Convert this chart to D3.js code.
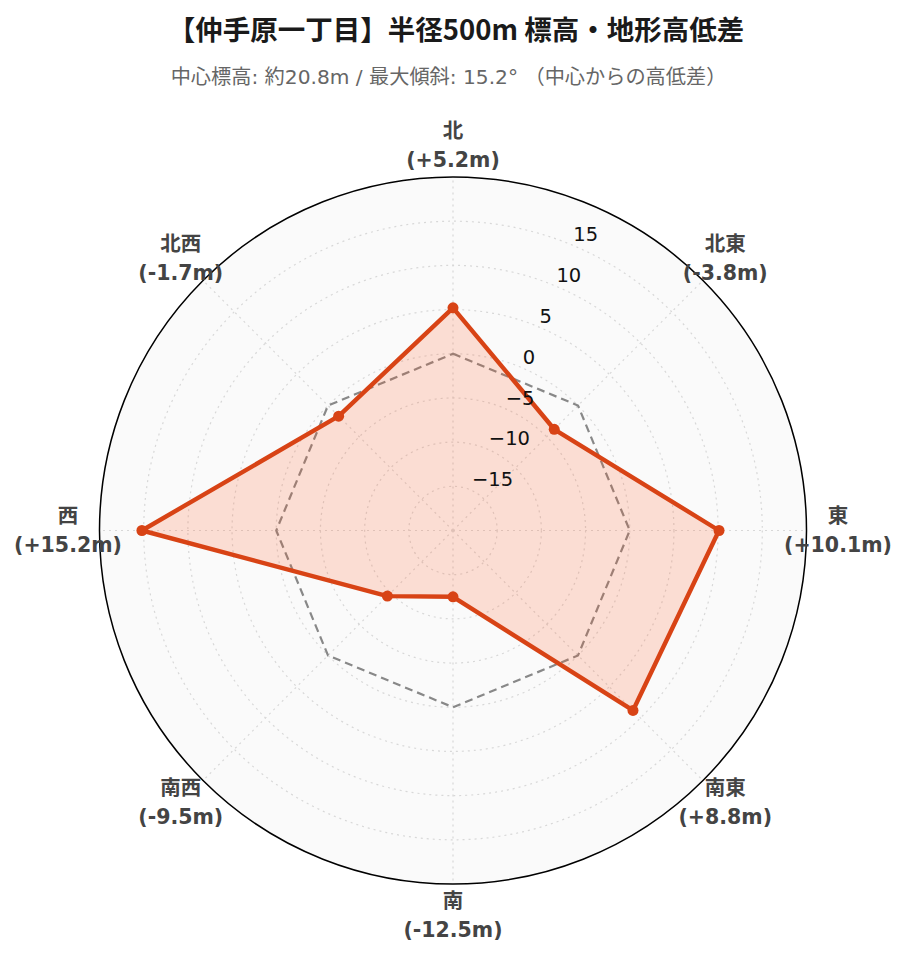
<!DOCTYPE html>
<html><head><meta charset="utf-8">
<script src="https://cdn.jsdelivr.net/npm/d3@7"></script>
<style>body{margin:0;background:#fff}svg{display:block}</style>
</head><body>
<svg id="c" width="907" height="962"></svg>
<script>
const directions = ["北","北東","東","南東","南","南西","西","北西"];
const values = [5.2, -3.8, 10.1, 8.8, -12.5, -9.5, 15.2, -1.7];
const baseline = [0, 0, 0, 0, 0, 0, 0, 0];
const radialTicks = [-15, -10, -5, 0, 5, 10, 15];
const radialRange = [-20, 20];
const titleText = "【仲手原一丁目】半径500m 標高・地形高低差";
const subtitleText = "中心標高: 約20.8m / 最大傾斜: 15.2° （中心からの高低差）";

const svg = d3.select("#c");
const cx = 453, cy = 530.5, R = 353.5;
const r = d3.scaleLinear().domain(radialRange).range([0, R]);
const ang = d3.scaleLinear().domain([0, directions.length]).range([0, 2*Math.PI]);
const pt = (i, v) => [cx + r(v)*Math.sin(ang(i)), cy - r(v)*Math.cos(ang(i))];
const font = "'DejaVu Sans', 'Noto Sans CJK JP', sans-serif";

svg.append("text").attr("x", 456).attr("y", 28).attr("text-anchor","middle")
  .attr("dominant-baseline","central")
  .style("font-family","'Noto Sans CJK JP', sans-serif").style("font-weight","bold")
  .style("font-size","27.5px").attr("fill","#1a1a1a").text(titleText);
svg.append("text").attr("x", 448.5).attr("y", 77).attr("text-anchor","middle")
  .attr("dominant-baseline","central")
  .style("font-family",font).style("font-size","20.2px").attr("fill","#666").text(subtitleText);

const g = svg.append("g");
g.append("circle").attr("cx",cx).attr("cy",cy).attr("r",R).attr("fill","#fafafa");
// grid circles
g.selectAll(".gc").data(radialTicks).enter().append("circle")
  .attr("cx",cx).attr("cy",cy).attr("r",d=>r(d)).attr("fill","none")
  .attr("stroke","#d8d8d8").attr("stroke-width",1.2).attr("stroke-dasharray","2,4");
// spokes
g.selectAll(".sp").data(directions).enter().append("line")
  .attr("x1",cx).attr("y1",cy)
  .attr("x2",(d,i)=>pt(i, radialRange[1])[0]).attr("y2",(d,i)=>pt(i, radialRange[1])[1])
  .attr("stroke","#d8d8d8").attr("stroke-width",1.2).attr("stroke-dasharray","2,4");

const line = d3.line().curve(d3.curveLinearClosed);
// baseline dashed
g.append("path").attr("d", line(baseline.map((v,i)=>pt(i,v))))
  .attr("fill","none").attr("stroke","#888").attr("stroke-width",2.2).attr("stroke-dasharray","8,5");
// data
g.append("path").attr("d", line(values.map((v,i)=>pt(i,v))))
  .attr("fill","rgba(255,87,34,0.18)").attr("stroke","#d84315").attr("stroke-width",4.4)
  .attr("stroke-linejoin","round");
g.selectAll(".dot").data(values).enter().append("circle")
  .attr("cx",(d,i)=>pt(i,d)[0]).attr("cy",(d,i)=>pt(i,d)[1]).attr("r",5.5).attr("fill","#d84315");

// outer circle
g.append("circle").attr("cx",cx).attr("cy",cy).attr("r",R).attr("fill","none")
  .attr("stroke","#000").attr("stroke-width",1.5);

// radial tick labels
const tickAng = Math.PI/8;
g.selectAll(".tl").data(radialTicks).enter().append("text")
  .attr("x", d=>cx + r(d)*Math.sin(tickAng) + 2)
  .attr("y", d=>cy - r(d)*Math.cos(tickAng) - 10)
  .attr("dominant-baseline","central")
  .style("font-family",font).style("font-size","19.5px").attr("fill","#111")
  .text(d=> d < 0 ? "\u2212" + Math.abs(d) : String(d));

// angular labels
const fmt = v => "(" + (v>0?"+":"") + v.toFixed(1) + "m)";
directions.forEach((d,i)=>{
  const a = ang(i);
  const x = cx + 385*Math.sin(a), y = cy - 385*Math.cos(a);
  const t = g.append("text").attr("text-anchor","middle")
    .style("font-family",font).style("font-weight","bold").style("font-size","20.5px").attr("fill","#444");
  t.append("tspan").attr("x",x).attr("y",y-14.5).attr("dominant-baseline","central").text(d);
  t.append("tspan").attr("x",x).attr("y",y+14.5).attr("dominant-baseline","central").text(fmt(values[i]));
});
</script>
</body></html>
